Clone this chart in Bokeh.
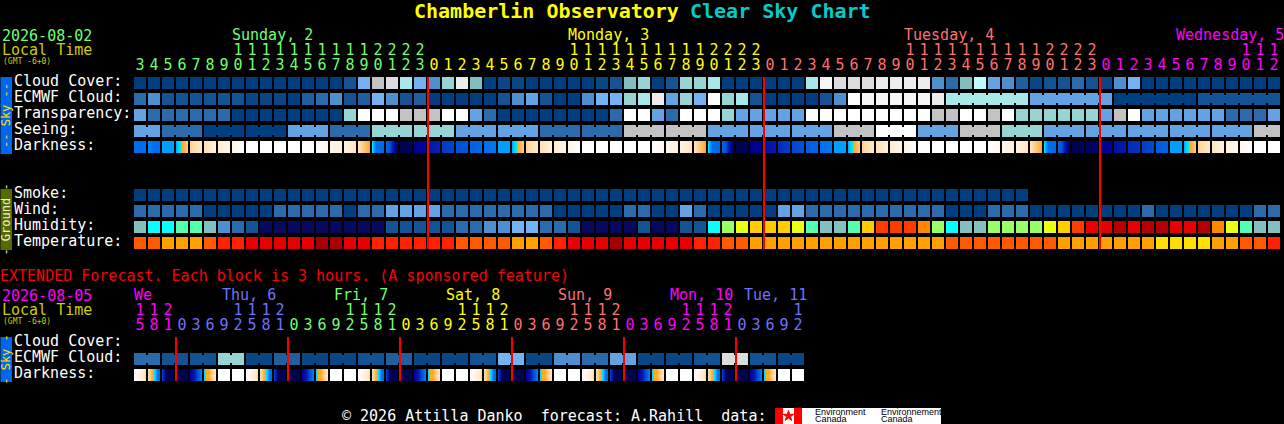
from math import pi
from bokeh.plotting import figure
from bokeh.embed import file_html
from bokeh.resources import INLINE
from bokeh.core.properties import value

# ---------- data (palette indices) ----------
BLUES = ["#003F7F","#0A4686","#135393","#1F5F9F","#2B6BAB","#4F8FCF","#63A3E3","#73B3F3",
         "#80BFBF","#97D5D5","#A9E8E8","#B9FFFF","#C3C3C3","#DCDCDC","#ECECEC","#F5F5F5","#FFFFFF"]
HUMID = ["#08085F","#135393","#2B6BAB","#4F8FCF","#73B3F3","#85C0C0","#08FFFF","#55FFB0",
         "#9AFF66","#EAFF14","#FFCC00","#FF8800","#FF3C00","#E60000","#B30000"]
TEMPS = ["#A80000","#E60000","#FF2200","#FF5A00","#FFA000","#FFE000"]

hours_start = 3
cloud = [0]*15 + [2,7,12,13,10,7,5,9,14,8,0,1,1,0,0,0,0,0,1,2,8,9,0,2,9,9,10,0,0,0,0,0,0,10,15,13,13,13,
         14,14,14,14,5,4,8,11,6,5,3,1,2,2,4,2,1,5,7] + [0]*10
ecmwf = [4,5,2,2,2,2,2,2,1,1,1,0,3,4,5,2,3,7,5,2,3,0,0,0,0,0,2,5,6,2,0,0,5,7,7,9,10,14,6,9,7,16,9,10,2,0,0,0,0,2,5,
         16,15,15,15,15,15,14] + [10]*6 + [6]*6 + [0]*6 + [2]*6
ecmwf_groups = [1]*58 + [6]*4
transparency = [6]+[4]*6+[0]*8+[9,16,16,16,12,12,12,16,16,6,4]+[0]*8+[4,16,16,6,4,16,16,16,9,6,6,6,6,6,
                16,16,16,16,16,16,16,16,16,12,12,16,16,12,16,9,9,9,9,9,9,6,12,16,6,6,6,6,6,6,4,4,4,6]
seeing = [6]*2+[4]*3+[0]*6+[6]*3+[4]*3+[9]*6+[6]*6+[4]*6+[12]*6+[6]*9+[12]*3+[16]*3+[6]*3+[12]*3+[9]*3+[6]*15+[12]*2
seeing_groups = [2] + [3]*26 + [2]
smoke = [0]*64
wind = [4]*5+[0]*5+[4]*5+[0,4,4,6,6,6,6]+[4]*8+[0]*5+[4,4,0,0,6,4]+[0]*5+[6,6]+[4]*3+[4]*7+[0]*3+[4]*3+[0]*8+[4]+[0]*7+[4,4]
humidity = [5,6,6,7,7,5,3,2,1]+[0]*9+[1,1,1,1,1,2,2,3,3,4,4,2,2,1,0,0,0,0,1,0,0,1,1,6,8,9,10,10,10,9,7,5,5,7,10,
            12,12,12,11,8,6,5,5,8,8,8,8,9,10,12,13,13,14,13,14,14,13,13,14,11,9,7,5,5]
temperature = [3,3,4,4,4,3,2,2,1,1,1,1,1,0,0,1,1,2,2,2,2,2,2,3,3,3,3,4,4,3,2,1,1,1,0,1,1,1,1,1,2,2,3,3,4]+[4]*13+[3]*8+[4]*7+[5]*4+[4,4,3,3,2]

# darkness: levels along each column, 0 = night ... 11 = full daylight
DARK = ["#00004F","#00009A","#0024B0","#0050D4","#006EEC","#00A0FF","#00E0FF",
        "#FFA820","#FFC878","#FFE0B0","#FFF0E0","#FFFFFF"]
W = (11, 11)
dawn = (5, 5.8, 6.2, 7, 7.4, 7.8, 8.3)
dusk = (6.2, 4, 3.9, 3.9)
darkness = [(4,4),(4.5,4,4),(5,5),dawn,(8.5,9.5),(9,10),(9.7,10.3),(10.2,11),W,W,W,W,W,(11,10.4),(10.4,10),(10.1,9.3),(9.3,8,7),
            dusk,(3.8,3,1.5,0.2),(0,0.1),(0.8,1.2),(1.6,2),(2.5,2.8),(3,3.2),(3.6,3.8),(4,4.2),(5,5),dawn,(8.5,9.5),(9,10),(9.7,10.3),(10.2,11),
            W,W,W,W,W,(11,10.4),(10.4,10),(10.1,9.3),(9.3,8,7),
            dusk,(3.8,3,1.5,0.2),(0,0.1),(0.7,1),(1.4,1.8),(2.2,2.6),(2.8,3.1),(3.4,3.7),(4,4.2),(5,5),dawn,(8.5,9.5),(9,10),(9.7,10.3),(10.2,11),
            W,W,W,W,W,(11,10.4),(10.4,10),(10.1,9.3),(9.3,8,7),
            dusk,(3.8,3,1.5,0.2),(0,0.1),(0.2,0.4),(0.8,1.1),(1.4,1.8),(2.2,2.4),(2.6,2.9),(3.4,3.7),(5,5),dawn,(8.5,9.5),(9.3,10),(10,10.5),(10.5,11),W,W]

ext_start = 15
ext_ecmwf = [4,2,2,9,1,3,1,1,2,3,1,1,2,7,1,5,4,6,1,1,2,13,2,1]
ext_night = (0, 0.05)
ext_cycle = [(11,10.2,9.2),(9.2,8,7,6,4,3.8),(3,0.3,0,0),ext_night,(1,1.6,3,4.6),(6,6.6,7.4,8.6,9.6),W,W]
ext_darkness = ext_cycle + ext_cycle + ext_cycle + ext_cycle + ext_cycle + ext_cycle

main_days = [("Sunday, 2", 232, "#70FF70", 21), ("Monday, 3", 568, "#FFFF00", 24),
             ("Tuesday, 4", 904, "#FF7070", 24), ("Wednesday, 5", 1176, "#FF00FF", 13)]
ext_days = [("We", 134, "#FF00FF", 3), ("Thu, 6", 222, "#7070FF", 8), ("Fri, 7", 334, "#70FF70", 8),
            ("Sat, 8", 446, "#FFFF00", 8), ("Sun, 9", 558, "#FF7070", 8), ("Mon, 10", 670, "#FF00FF", 8),
            ("Tue, 11", 744, "#7070FF", 5)]
main_labels = [("Cloud Cover:", 86), ("ECMWF Cloud:", 102), ("Transparency:", 118), ("Seeing:", 134), ("Darkness:", 150),
               ("Smoke:", 198), ("Wind:", 214), ("Humidity:", 230), ("Temperature:", 246)]
ext_labels = [("Cloud Cover:", 346), ("ECMWF Cloud:", 362), ("Darkness:", 378)]

assert len(cloud)==len(ecmwf)==len(transparency)==len(seeing)==len(wind)==len(humidity)==len(temperature)==len(darkness)==82, \
    [len(a) for a in (cloud,ecmwf,transparency,seeing,wind,humidity,temperature,darkness)]
assert sum(seeing_groups)==82 and sum(ecmwf_groups)==82 and len(ext_ecmwf)==24 and len(ext_darkness)==48

# ---------- layout ----------
X0, STEP, CW, CH = 134, 14, 12, 12
p = figure(width=1284, height=424, x_range=(0.5,1284.5), y_range=(424.5,0.5), output_backend="svg",
           toolbar_location=None, background_fill_color="#000000", border_fill_color="#000000",
           min_border=0, outline_line_color=None,
           styles={"position":"fixed","left":"0px","top":"0px","background-color":"#000000"})
p.axis.visible = False
p.grid.visible = False

cells = dict(left=[], right=[], top=[], bottom=[], color=[])
def box(l, r, t, b, c):
    cells["left"].append(l); cells["right"].append(r); cells["top"].append(t); cells["bottom"].append(b); cells["color"].append(c)

def row(vals, palette, y):
    for i, v in enumerate(vals):
        box(X0+STEP*i, X0+STEP*i+CW, y, y+CH, palette[v])

def joins(groups, vals, palette, y, first=0):
    i = first
    for g in groups:
        for k in range(g-1):
            box(X0+STEP*(i+k)+CW, X0+STEP*(i+k+1), y+2, y+CH-2, palette[vals[i+k]])
        i += g

def dark_color(lv):
    if lv >= 6.5:
        lv = max(lv, 7)
    lo = min(int(lv), 10)
    f = lv-lo
    if lo == 6:
        return DARK[6]
    a, b = DARK[lo], DARK[lo+1]
    mix = [round(int(a[j:j+2],16)*(1-f)+int(b[j:j+2],16)*f) for j in (1,3,5)]
    return "#%02X%02X%02X" % tuple(mix)

def dark_row(vals, y):
    for i, stops in enumerate(vals):
        n = len(stops)-1
        cell_right = X0+STEP*i+CW
        for px in range(CW):
            t = (px+0.5)/CW*n
            k = min(int(t), n-1)
            lv = stops[k]+(stops[k+1]-stops[k])*(t-k)
            box(X0+STEP*i+px, cell_right, y, y+CH, dark_color(lv))

row(cloud, BLUES, 77)
row(ecmwf, BLUES, 93); joins(ecmwf_groups, ecmwf, BLUES, 93)
row(transparency, BLUES, 109)
row(seeing, BLUES, 125); joins(seeing_groups, seeing, BLUES, 125)
dark_row(darkness, 141)
row(smoke, BLUES, 189)
row(wind, BLUES, 205)
row(humidity, HUMID, 221)
row(temperature, TEMPS, 237)

ext_vals = [v for v in ext_ecmwf for _ in (0,1)]
row(ext_vals, BLUES, 353); joins([2]*24, ext_vals, BLUES, 353)
dark_row(ext_darkness, 369)

# side bars, logo box
box(0, 12, 77, 154, "#0066EE")
box(0, 12, 189, 250, "#556B00")
box(0, 12, 337, 382, "#0066EE")
box(775, 941, 408, 424, "#FFFFFF")
box(775, 783, 408, 424, "#FF0000")
box(794, 802, 408, 424, "#FF0000")
p.quad(left="left", right="right", top="top", bottom="bottom", fill_color="color", line_color=None, source=cells)
p.scatter([788.5], [416], marker="star", size=11, color="#FF0000")

# midnight markers
for start, y0, y1, step_cols, days in [(21, 77, 249, 24, 3), (3, 337, 381, 8, 6)]:
    xs = [X0+STEP*(start+step_cols*k) for k in range(days)]
    p.quad(left=[x-1 for x in xs], right=[x+1 for x in xs], top=[y0]*days, bottom=[y1]*days,
           fill_color="#FF0000", line_color=None)

def T(x, y, s, color, size=15, bold=False, align="left", font="DejaVu Sans Mono", angle=0):
    if not angle:
        y = y - 0.36*size
    p.text([x], [y], text=[s], text_color=color, text_font_size=value(f"{size}px"), text_align=align,
           text_baseline="alphabetic" if not angle else "middle", text_font=value(font),
           text_font_style="bold" if bold else "normal", angle=angle)

T(414, 18, "Chamberlin Observatory", "#FFFF00", 20, True)
T(690, 18, "Clear Sky Chart", "#00CCCC", 20, True)
T(2, 40, "2026-08-02", "#70FF70")
T(2, 55, "Local Time", "#CCCC00")
T(3, 64, "(GMT -6+0)", "#CCCC00", 8)
T(0, 281, "EXTENDED Forecast. Each block is 3 hours. (A sponsored feature)", "#FF0000")
T(2, 300, "2026-08-05", "#FF00FF")
T(2, 315, "Local Time", "#CCCC00")
T(3, 324, "(GMT -6+0)", "#CCCC00", 8)
T(342, 421, "\u00a9 2026 Attilla Danko\u00a0 forecast: A.Rahill\u00a0 data:", "#FFFFFF")
T(815, 415, "Environment", "#000000", 9, font="Liberation Sans")
T(815, 422, "Canada", "#000000", 9, font="Liberation Sans")
T(881, 415, "Environnement", "#000000", 9, font="Liberation Sans")
T(881, 422, "Canada", "#000000", 9, font="Liberation Sans")

for s, y in main_labels + ext_labels:
    T(14, y, s, "#FFFFFF")

def hour_axis(days, start_hour, step_hours, y_day, y_tens, y_units):
    col, hr = 0, start_hour
    for name, x, color, n in days:
        T(x, y_day, name, color)
        for _ in range(n):
            cx = X0+STEP*col+CW/2
            if hr >= 10:
                T(cx, y_tens, str(hr//10), color, align="center")
            T(cx, y_units, str(hr%10), color, align="center")
            col += 1
            hr = (hr+step_hours) % 24

hour_axis(main_days, hours_start, 1, 40, 54, 69)
hour_axis(ext_days, ext_start, 3, 300, 314, 329)

T(6, 115.5, "-- Sky --", "#FFE000", 12, angle=pi/2, align="center")
T(6, 219.5, "- Ground -", "#F0F0D0", 12, angle=pi/2, align="center")
T(6, 359.5, "- Sky -", "#FFE000", 12, angle=pi/2, align="center")

open("out.html", "w").write(file_html(p, INLINE))
